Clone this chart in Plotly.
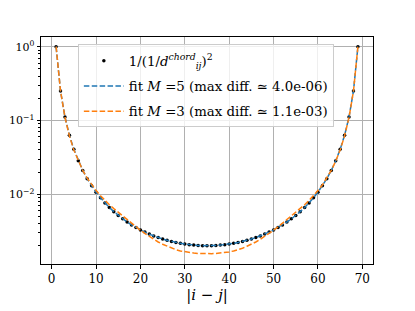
import plotly.graph_objects as go

dist = list(range(1, 70))

half_chord = [1.0, 0.25051, 0.11172, 0.063133, 0.040651, 0.028440, 0.021080, 0.016303,
              0.013031, 0.010692, 0.0089640, 0.0076517, 0.0066325, 0.0058261, 0.0051779,
              0.0046499, 0.0042149, 0.0038529, 0.0035493, 0.0032930, 0.0030755, 0.0028900,
              0.0027314, 0.0025958, 0.0024797, 0.0023807, 0.0022964, 0.0022254, 0.0021662,
              0.0021177, 0.0020792, 0.0020498, 0.0020292, 0.0020169, 0.0020129]
chord_vals = half_chord + half_chord[-2::-1]

fit5_vals = chord_vals

half_fit3 = [1.0, 0.2505, 0.1106, 0.0619, 0.0398, 0.0282, 0.0211, 0.01663, 0.01342,
             0.01123, 0.00959, 0.00826, 0.00723, 0.00641, 0.00570, 0.00507, 0.00451,
             0.00405, 0.00362, 0.00326, 0.00295, 0.00269, 0.00246, 0.00226, 0.00211,
             0.00198, 0.00186, 0.00178, 0.00171, 0.00166, 0.00162, 0.00160, 0.00158,
             0.00157, 0.00157]
fit3_vals = half_fit3 + half_fit3[-2::-1]

FONT = "DejaVu Serif"

fig = go.Figure()
fig.add_trace(go.Scatter(
    x=dist, y=chord_vals, mode="markers", legendgroup="a",
    marker=dict(color="black", size=3.5),
    name="1/(1/<i>d</i><sup><i>chord</i></sup><sub><i>ij</i></sub>)<sup>2</sup>"))
fig.add_trace(go.Scatter(
    x=dist, y=fit5_vals, mode="lines", legendgroup="b",
    line=dict(color="#1f77b4", width=1.5, dash="5.5px,2.4px"),
    name="fit <i>M</i> =5 (max diff. ≃ 4.0e-06)"))
fig.add_trace(go.Scatter(
    x=dist, y=fit3_vals, mode="lines", legendgroup="c",
    line=dict(color="#ff7f0e", width=1.5, dash="5.5px,2.4px"),
    name="fit <i>M</i> =3 (max diff. ≃ 1.1e-03)"))

# page body has an 8px margin, so the figure is offset; compensate in margins
fig.update_layout(
    width=407, height=303,
    margin=dict(l=33, r=42, t=29, b=47),
    paper_bgcolor="white", plot_bgcolor="white",
    font=dict(family=FONT, size=12, color="black"),
    showlegend=True,
    legend=dict(x=0.111, y=0.967, xanchor="left", yanchor="top",
                bgcolor="rgba(255,255,255,0.8)", bordercolor="#cccccc", borderwidth=1,
                font=dict(family=FONT, size=13.3), tracegroupgap=5,
                itemwidth=40),
)
fig.update_xaxes(
    range=[-2.4, 72.4], tickvals=[0, 10, 20, 30, 40, 50, 60, 70],
    showline=True, linecolor="black", linewidth=1, mirror=True,
    ticks="outside", ticklen=3.5, tickcolor="black",
    showgrid=True, gridcolor="#b0b0b0", gridwidth=0.8, zeroline=False,
    automargin=False,
    title=dict(text="|<i>i</i> − <i>j</i>|", font=dict(family=FONT, size=15), standoff=4),
    tickfont=dict(family=FONT, size=12),
)
fig.update_yaxes(
    type="log", range=[-2.944, 0.131],
    tickvals=[0.01, 0.1, 1], ticktext=["10<sup>−2</sup>", "10<sup>−1</sup>", "10<sup>0</sup>"],
    showline=True, linecolor="black", linewidth=1, mirror=True,
    ticks="outside", ticklen=3.5, tickcolor="black",
    showgrid=True, gridcolor="#b0b0b0", gridwidth=0.8, zeroline=False,
    automargin=False,
    minor=dict(ticks="outside", ticklen=2, tickcolor="black", showgrid=False,
               tickvals=[0.002, 0.003, 0.004, 0.005, 0.006, 0.007, 0.008, 0.009,
                         0.02, 0.03, 0.04, 0.05, 0.06, 0.07, 0.08, 0.09,
                         0.2, 0.3, 0.4, 0.5, 0.6, 0.7, 0.8, 0.9]),
    tickfont=dict(family=FONT, size=11),
)

fig.write_html("out.html")
